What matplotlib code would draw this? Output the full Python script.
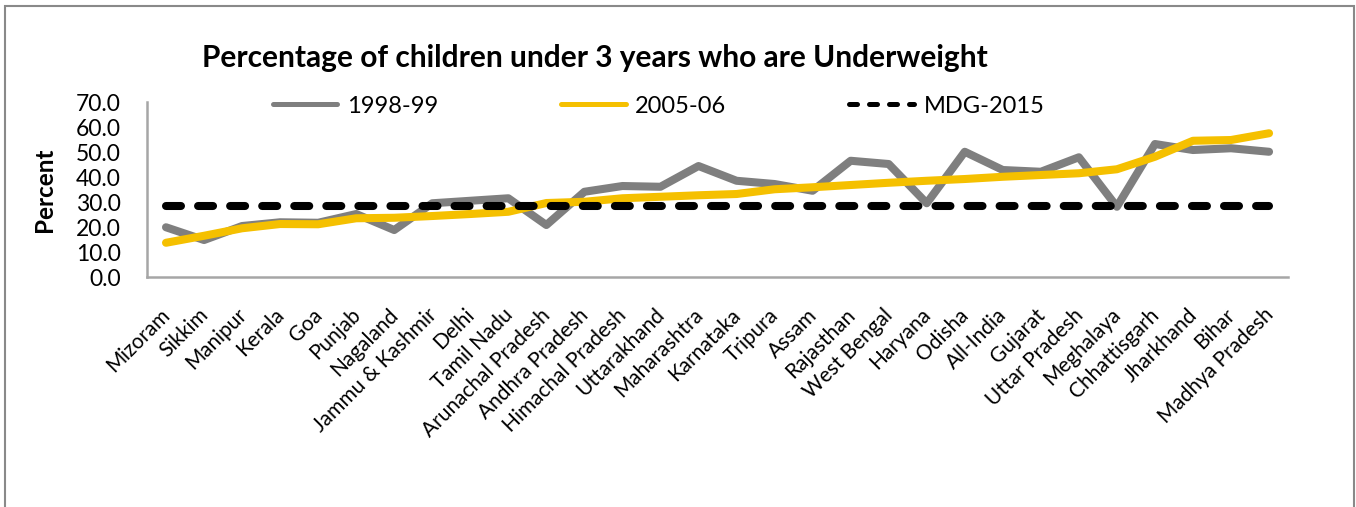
import matplotlib
matplotlib.use("Agg")
import matplotlib.pyplot as plt
from matplotlib.patches import Rectangle
from matplotlib.lines import Line2D
from matplotlib.transforms import ScaledTranslation

plt.rcParams['font.family'] = ['Lato', 'DejaVu Sans']

states = ["Mizoram", "Sikkim", "Manipur", "Kerala", "Goa", "Punjab", "Nagaland",
          "Jammu & Kashmir", "Delhi", "Tamil Nadu", "Arunachal Pradesh",
          "Andhra Pradesh", "Himachal Pradesh", "Uttarakhand", "Maharashtra",
          "Karnataka", "Tripura", "Assam", "Rajasthan", "West Bengal", "Haryana",
          "Odisha", "All-India", "Gujarat", "Uttar Pradesh", "Meghalaya",
          "Chhattisgarh", "Jharkhand", "Bihar", "Madhya Pradesh"]

nfhs2 = [19.9, 14.8, 20.4, 21.9, 21.7, 25.2, 18.8, 29.5, 30.5, 31.5, 20.8,
         34.1, 36.4, 36.1, 44.4, 38.5, 37.2, 34.5, 46.5, 45.2, 29.5,
         50.1, 42.8, 42.1, 47.9, 28.1, 53.2, 50.8, 51.5, 50.1]

nfhs3 = [13.7, 16.5, 19.5, 21.2, 21.1, 23.5, 23.7, 24.4, 25.2, 26.1, 29.6,
         30.1, 31.5, 32.1, 32.7, 33.2, 35.1, 35.9, 36.8, 37.7, 38.5,
         39.2, 40.1, 40.8, 41.5, 43.1, 48.1, 54.5, 54.8, 57.5]

mdg = 28.6

fig = plt.figure(figsize=(13.56, 5.07), dpi=100)
ax = fig.add_axes([0.1084, 0.4536, 0.8415, 0.3452])

x = list(range(len(states)))
lw = 5.8
ax.plot(x, nfhs2, color="#7F7F7F", lw=lw, solid_capstyle="round",
        solid_joinstyle="round", zorder=2)
ax.plot(x, nfhs3, color="#F5C000", lw=lw, solid_capstyle="round",
        solid_joinstyle="round", zorder=3)
ax.plot(x, [mdg] * len(states), color="black", lw=lw, dashes=(1.86, 2.12),
        dash_capstyle="round", zorder=4)

ax.set_xlim(-0.5, len(states) - 0.5)
ax.set_ylim(0, 70)
ax.set_yticks(range(0, 71, 10))
ax.set_yticklabels([f"{v:.1f}" for v in range(0, 71, 10)], fontsize=16.5)
ax.set_xticks(x)
ax.set_xticklabels(states, rotation=45, ha="right", va="top",
                   rotation_mode="anchor", fontsize=15)
ax.tick_params(length=0)
ax.tick_params(axis="y", pad=19)
ax.tick_params(axis="x", pad=20)
shift = ScaledTranslation(-6 / 100, 0, fig.dpi_scale_trans)
for lab in ax.get_xticklabels():
    lab.set_transform(lab.get_transform() + shift)

for s in ["top", "right"]:
    ax.spines[s].set_visible(False)
for s in ["left", "bottom"]:
    ax.spines[s].set_color("#A6A6A6")
    ax.spines[s].set_linewidth(1.8)

ax.set_ylabel("Percent", fontsize=17.5, fontweight="bold", labelpad=14)

handles = [
    Line2D([], [], color="#7F7F7F", lw=3.6, solid_capstyle="round"),
    Line2D([], [], color="#F5C000", lw=3.6, solid_capstyle="round"),
    Line2D([], [], color="black", lw=3.6, dashes=(1.6, 2.4), dash_capstyle="round"),
]
labels = ["1998-99", "2005-06", "MDG-2015"]
leg = ax.legend(handles, labels, ncol=3, loc="center left",
                bbox_to_anchor=(0.110, 0.977),
                frameon=False, fontsize=17, handlelength=2.75,
                handletextpad=0.4, columnspacing=5.2,
                borderpad=0, borderaxespad=0)

fig.text(0.439, 0.886, "Percentage of children under 3 years who are Underweight",
         ha="center", va="center", fontsize=21.5, fontweight="bold")

fig.patches.append(Rectangle((5 / 1356, -0.05), 1349 / 1356, 1.05 - 6 / 507,
                             transform=fig.transFigure, fill=False,
                             edgecolor="#898989", lw=1.5))

fig.savefig("out.png", dpi=100)
